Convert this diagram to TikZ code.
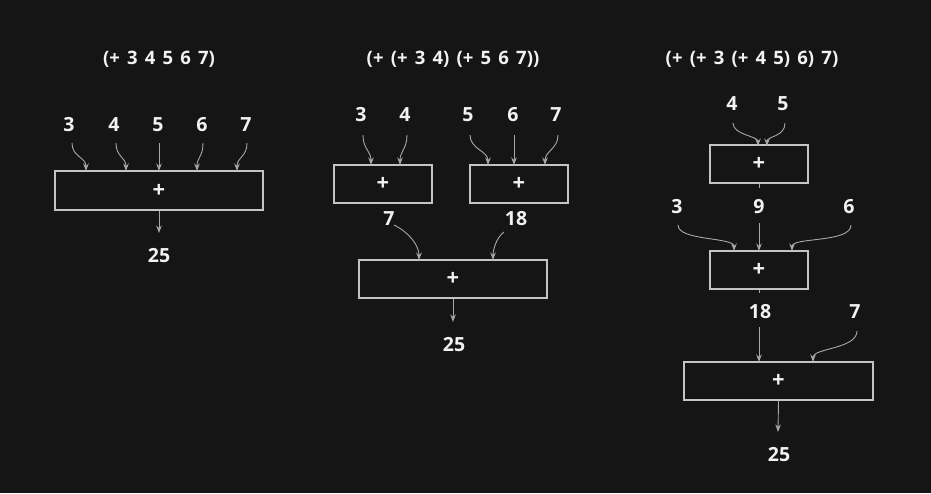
\documentclass[tikz,border=0pt]{standalone}
\usepackage{fontspec}
\setmainfont{Open Sans}[BoldFont={Open Sans Bold}]
\newfontfamily\titlefont{Open Sans}[BoldFont={Open Sans Bold},WordSpace=1.5]
\usetikzlibrary{arrows.meta}
\definecolor{bg}{HTML}{151515}
\definecolor{boxc}{HTML}{C4C4C4}
\definecolor{arrc}{HTML}{A8A8A8}
\definecolor{txt}{HTML}{F2F2F2}
\begin{document}
\begin{tikzpicture}[x=1pt,y=-1pt,
  title/.style={text=txt,font=\titlefont\fontsize{18.5}{20}\selectfont\bfseries,inner sep=0pt},
  num/.style={text=txt,font=\fontsize{19.5}{22}\selectfont\bfseries,inner sep=0pt},
  opbox/.style={draw=boxc,line width=1.5pt,inner sep=0pt,text=txt,font=\fontsize{22}{24}\selectfont\bfseries},
  arr/.style={draw=arrc,line width=0.9pt,-{Stealth[length=7.5pt,width=5.5pt]}},
  tick/.style={draw=arrc,line width=0.9pt},
  curv/.style={to path={.. controls +(0,#1) and +(0,-#1) .. (\tikztotarget)}},
  curv/.default=14]
\fill[bg] (0,0) rectangle (931,493);
\useasboundingbox (0,0) rectangle (931,493);

% ---------- panel 1
\node[title] (t1) at (159,59) {(+ 3 4 5 6 7)};
\node[num] (a3) at (69,125) {3};
\node[num] (a4) at (114,125) {4};
\node[num] (a5) at (158,125) {5};
\node[num] (a6) at (202,125) {6};
\node[num] (a7) at (246,125) {7};
\node[opbox,minimum width=208pt,minimum height=39pt] (b1) at (159,190.5) {+};
\node[num] (r1) at (159,256) {25};
\coordinate (s13) at (72,143);  \coordinate (e13) at (86,171);
\coordinate (s14) at (116,143); \coordinate (e14) at (126,171);
\coordinate (s15) at (159,143); \coordinate (e15) at (159,171);
\coordinate (s16) at (203,143); \coordinate (e16) at (197,171);
\coordinate (s17) at (247,143); \coordinate (e17) at (237,171);
\coordinate (o1) at (159,233);
\draw[arr] (s13) to[curv] (e13);
\draw[arr] (s14) to[curv] (e14);
\draw[arr] (s15) -- (e15);
\draw[arr] (s16) to[curv] (e16);
\draw[arr] (s17) to[curv] (e17);
\draw[arr] (b1.south) -- (o1);

% ---------- panel 2
\node[title] (t2) at (453,59) {(+ (+ 3 4) (+ 5 6 7))};
\node[num] (c3) at (361,115) {3};
\node[num] (c4) at (405,115) {4};
\node[num] (c5) at (468,115) {5};
\node[num] (c6) at (513,115) {6};
\node[num] (c7) at (556,115) {7};
\node[opbox,minimum width=98pt,minimum height=38pt] (bA) at (383,184) {+};
\node[opbox,minimum width=98pt,minimum height=38pt] (bB) at (519,184) {+};
\node[num] (m7) at (389,219) {7};
\node[num] (m18) at (516,219) {18};
\node[opbox,minimum width=188pt,minimum height=38pt] (bC) at (453,279) {+};
\node[num] (r2) at (454,345) {25};
\coordinate (s23) at (363,135); \coordinate (e23) at (371,165);
\coordinate (s24) at (407,135); \coordinate (e24) at (400,165);
\coordinate (s25) at (470,135); \coordinate (e25) at (488,165);
\coordinate (s26) at (514,135); \coordinate (e26) at (514,165);
\coordinate (s27) at (558,135); \coordinate (e27) at (545,165);
\coordinate (s2m) at (394,225); \coordinate (e2m) at (419,260);
\coordinate (s2n) at (504,232); \coordinate (e2n) at (493,260);
\coordinate (o2) at (453,322);
\draw[arr] (s23) to[curv] (e23);
\draw[arr] (s24) to[curv] (e24);
\draw[arr] (s25) to[curv] (e25);
\draw[arr] (s26) -- (e26);
\draw[arr] (s27) to[curv] (e27);
\draw[arr] (s2m) .. controls +(16,8) and +(0,-14) .. (e2m);
\draw[arr] (s2n) .. controls +(-8,6) and +(0,-10) .. (e2n);
\draw[arr] (bC.south) -- (o2);

% ---------- panel 3
\node[title] (t3) at (752,59) {(+ (+ 3 (+ 4 5) 6) 7)};
\node[num] (d4) at (732,104) {4};
\node[num] (d5) at (783,104) {5};
\node[opbox,minimum width=98pt,minimum height=38pt] (bD) at (759,164) {+};
\node[num] (d3) at (677,207) {3};
\node[num] (d9) at (759,207) {9};
\node[num] (d6) at (849,207) {6};
\node[opbox,minimum width=98pt,minimum height=38pt] (bE) at (759,270) {+};
\node[num] (d18) at (760,312) {18};
\node[num] (d7) at (855,312) {7};
\node[opbox,minimum width=189pt,minimum height=38pt] (bF) at (778.5,381) {+};
\node[num] (r3) at (779,455) {25};
\coordinate (s34) at (733,123); \coordinate (e34) at (758,146);
\coordinate (s35) at (785,123); \coordinate (e35) at (767,146);
\coordinate (kD) at (759,188);
\coordinate (s33) at (678,225); \coordinate (e33) at (734,251);
\coordinate (s39) at (759,223); \coordinate (e39) at (759,251);
\coordinate (s36) at (851,225); \coordinate (e36) at (792,251);
\coordinate (kE) at (759,293);
\coordinate (s318) at (759,327); \coordinate (e318) at (759,362);
\coordinate (s37) at (857,331); \coordinate (e37) at (813,362);
\coordinate (o3) at (778,432);
\draw[arr] (s34) .. controls +(0,12) and +(0,-10) .. (e34);
\draw[arr] (s35) .. controls +(0,14) and +(0,-10) .. (e35);
\draw[tick] (bD.south) -- (kD);
\draw[arr] (s33) .. controls +(0,16) and +(0,-14) .. (e33);
\draw[arr] (s39) -- (e39);
\draw[arr] (s36) .. controls +(0,18) and +(0,-14) .. (e36);
\draw[tick] (bE.south) -- (kE);
\draw[arr] (s318) -- (e318);
\draw[arr] (s37) .. controls +(0,18) and +(0,-14) .. (e37);
\draw[arr] (bF.south) -- (o3);
\end{tikzpicture}
\end{document}
